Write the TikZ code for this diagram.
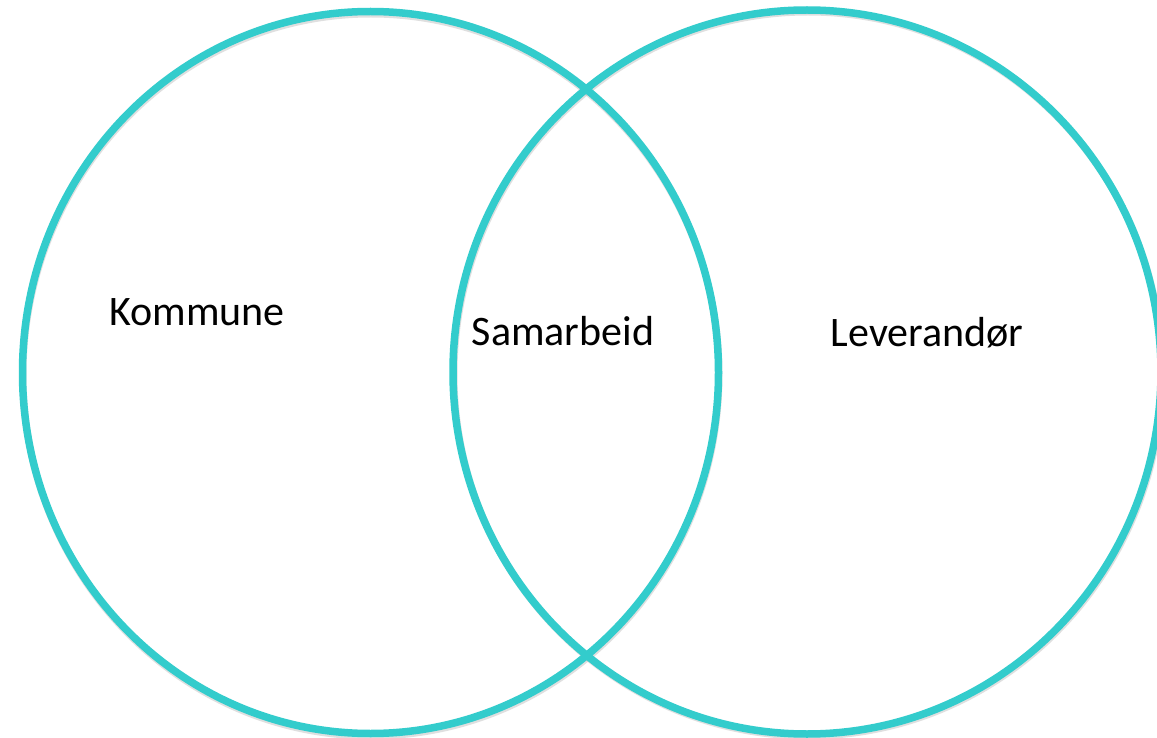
\documentclass[tikz,border=0pt]{standalone}
\usepackage{fontspec}
\setmainfont{Carlito}
\definecolor{teal1}{RGB}{51,204,204}
\tikzset{
  ring/.style={draw=teal1, line width=7.5pt},
  ringshadow/.style={draw=black!35, line width=7pt, opacity=0.35},
  lbl/.style={font=\fontsize{42}{48}\selectfont, text=black, inner sep=0pt}
}
\begin{document}
\begin{tikzpicture}[x=1pt,y=-1pt]
\useasboundingbox (0,0) rectangle (1157,738);
\fill[white] (0,0) rectangle (1157,738);
\draw[ringshadow] (371,375) ellipse [x radius=348, y radius=361];
\draw[ringshadow] (808,374) ellipse [x radius=354, y radius=362];
\draw[ring] (370.5,372.5) ellipse [x radius=348, y radius=361];
\draw[ring] (807,372) ellipse [x radius=354, y radius=362];
\node[lbl] (kommune) at (197,312) {Kommune};
\node[lbl] (samarbeid) at (563,331) {Samarbeid};
\node[lbl] (leverandor) at (927,333) {Leverandør};
\end{tikzpicture}
\end{document}
